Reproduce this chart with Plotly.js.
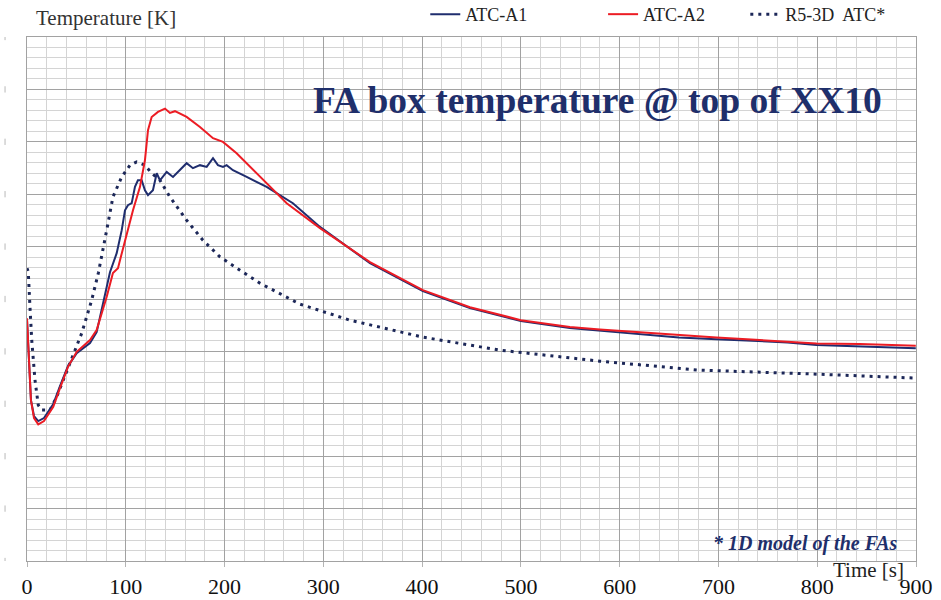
<!DOCTYPE html>
<html>
<head>
<meta charset="utf-8">
<script src="https://cdn.plot.ly/plotly-3.0.1.min.js"></script>
<style>
  html, body { margin: 0; padding: 0; background: #ffffff; }
  #chart { width: 941px; height: 600px; }
</style>
</head>
<body>
<div id="chart"></div>
<script>
// FA box temperature at top of XX10 — measured (ATC-A1, ATC-A2) vs. R5-3D model

const timeA1 = [0, 4, 7.1, 11.4, 17.2, 26.6, 33.4, 41.5, 50.3, 63.8, 70.5, 77.9, 84, 90.8, 92.1, 95.9,
  99.2, 102.2, 106, 109.3, 112.3, 116.1, 119.4, 122.5, 127.5, 131.3, 134.6, 137.7, 141.4, 147.8,
  154.9, 161.6, 168, 175.1, 181.9, 188.3, 193.3, 198.4, 202.1, 208.5, 222.4, 242.6, 269.2, 296.6,
  347.2, 400.8, 448.4, 500, 549.6, 580, 630.6, 660, 698, 741.9, 770, 799.3, 843.1, 870, 899.8];
const tempA1 = [529.8, 453.5, 438.3, 433.5, 436.4, 449.7, 466.9, 486, 498.4, 507.9, 518.4, 548.9, 575.6, 593.7, 599.7, 615.7,
  634.7, 639.5, 641.4, 657, 663.3, 663.3, 653.8, 649.1, 653.8, 670, 663.3, 666.5, 671.3, 666.5,
  672.9, 679.6, 674.8, 677.7, 676, 684.3, 677.7, 676, 677.7, 672.9, 666.5, 657, 641.4, 618.8,
  584.2, 557.5, 541.3, 528.9, 522.2, 519.8, 516, 513.2, 511.7, 509.4, 508.6, 506, 504.6, 503.4, 503.1];

const timeA2 = [0, 4, 7.1, 11.4, 17.2, 26.6, 33.4, 41.5, 50.3, 63.8, 70.5, 80.7, 87, 92.1, 95.9, 100.9,
  107.3, 114.4, 119.4, 122.5, 126.2, 132.6, 139.7, 144.7, 149.8, 161.6, 175.1, 188.3, 198.4, 212.2,
  235.8, 262.9, 296.6, 347.2, 400.8, 448.4, 500, 549.6, 580, 630.6, 698, 741.9, 799.3, 843.1, 896.8, 899.8];
const tempA2 = [531.7, 453.5, 436.4, 430.4, 433.5, 447.2, 465, 485.3, 499.6, 510.8, 520.3, 552.1, 574.7, 579.4, 593.5, 612.8,
  634.7, 657, 682.4, 711, 723.7, 728.5, 731.7, 727.5, 729.2, 723.7, 714.2, 703.4, 699.9, 689.1,
  666.5, 641.4, 617.6, 585.2, 558.5, 542.2, 529.8, 523.2, 521, 517.4, 513.3, 510.8, 507.6, 507, 505, 505.5];

const timeR5 = [0, 1.3, 3, 4.8, 8.1, 11.4, 14.9, 23.3, 30.1, 41.8, 55.4, 65.5, 72.2, 80.7, 87, 95.9,
  104.3, 111, 119.4, 126.2, 134.6, 144.7, 161.6, 178.1, 195.3, 215.6, 235.8, 276.3, 326.9, 400.8,
  478.7, 580, 679, 799.3, 900];
const tempR5 = [579.4, 575.9, 542.5, 510.8, 472.6, 448.8, 444, 444, 456.7, 485.3, 517.4, 548.9, 574.7, 615.7, 647.4, 666.5,
  677.7, 680.8, 677.7, 670, 663.3, 647.4, 625.2, 606.1, 590.2, 577.5, 565.1, 545.1, 529.8, 513.6,
  501.2, 490.7, 482.2, 478.3, 474.5];

const seriesNames = ['ATC-A1', 'ATC-A2', 'R5-3D  ATC*'];
const xTickVals = [0, 100, 200, 300, 400, 500, 600, 700, 800, 900];
const yTickVals = [300, 350, 400, 450, 500, 550, 600, 650, 700, 750, 800];

const serif = 'Liberation Serif, serif';
const navy = '#1f2f6b';

const traces = [
  { x: timeR5, y: tempR5, name: seriesNames[2], mode: 'lines', legend: 'legend3',
    line: { color: '#1c2758', width: 3, dash: '3px,5px' } },
  { x: timeA1, y: tempA1, name: seriesNames[0], mode: 'lines', legend: 'legend',
    line: { color: '#1f2d6e', width: 2 } },
  { x: timeA2, y: tempA2, name: seriesNames[1], mode: 'lines', legend: 'legend2',
    line: { color: '#ec1c24', width: 2 } }
];

const legendBase = {
  orientation: 'h', yanchor: 'middle', xanchor: 'left', y: 1.043,
  bgcolor: 'rgba(0,0,0,0)', font: { family: serif, size: 18, color: '#222' }
};

// faint stubs of the hidden temperature scale, left of the plot
const yStubs = yTickVals.map(v => ({
  type: 'line', xref: 'paper', yref: 'y', x0: -0.0247, x1: -0.0247, y0: v - 3, y1: v + 3,
  line: { color: '#b8b8b8', width: 1 }
}));

const layout = {
  width: 941, height: 600,
  margin: { l: 27, r: 25, t: 37, b: 39, autoexpand: false },
  paper_bgcolor: '#ffffff', plot_bgcolor: '#ffffff',
  showlegend: true,
  legend: Object.assign({}, legendBase, { x: 0.448 }),
  legend2: Object.assign({}, legendBase, { x: 0.648 }),
  legend3: Object.assign({}, legendBase, { x: 0.808 }),
  xaxis: {
    range: [0, 900], tickvals: xTickVals, ticktext: xTickVals.map(String),
    showgrid: true, gridcolor: '#a2a2a2', gridwidth: 1,
    minor: { dtick: 20, showgrid: true, gridcolor: '#d4d4d4', gridwidth: 1 },
    showline: true, linecolor: '#a2a2a2', linewidth: 1, mirror: true,
    ticks: 'outside', ticklen: 5, tickcolor: '#b4b4b4',
    ticklabelstandoff: 1,
    tickfont: { family: serif, size: 22, color: '#111' },
    zeroline: false, fixedrange: true, automargin: false
  },
  yaxis: {
    range: [300, 800], tickvals: yTickVals, showticklabels: false,
    showgrid: true, gridcolor: '#a2a2a2', gridwidth: 1,
    minor: { dtick: 10, showgrid: true, gridcolor: '#d4d4d4', gridwidth: 1 },
    showline: true, linecolor: '#a2a2a2', linewidth: 1, mirror: true,
    ticks: '', zeroline: false, fixedrange: true, automargin: false
  },
  shapes: yStubs,
  annotations: [
    { text: 'Temperature [K]', xref: 'paper', yref: 'paper', x: 0.008, y: 1.036,
      xanchor: 'left', yanchor: 'middle', showarrow: false,
      font: { family: serif, size: 21, color: '#333' } },
    { text: '<b>FA box temperature @ top of XX10</b>', xref: 'paper', yref: 'paper', x: 0.642, y: 0.878,
      xanchor: 'center', yanchor: 'middle', showarrow: false,
      font: { family: serif, size: 37.5, color: navy } },
    { text: '<b><i>* 1D model of the FAs</i></b>', xref: 'paper', yref: 'paper', x: 0.875, y: 0.034,
      xanchor: 'center', yanchor: 'middle', showarrow: false,
      font: { family: serif, size: 20, color: navy } },
    { text: 'Time [s]', xref: 'paper', yref: 'paper', x: 0.947, y: -0.017,
      xanchor: 'center', yanchor: 'middle', showarrow: false,
      font: { family: serif, size: 21, color: '#222' } }
  ]
};

Plotly.newPlot('chart', traces, layout, { displayModeBar: false, staticPlot: true });
</script>
</body>
</html>
